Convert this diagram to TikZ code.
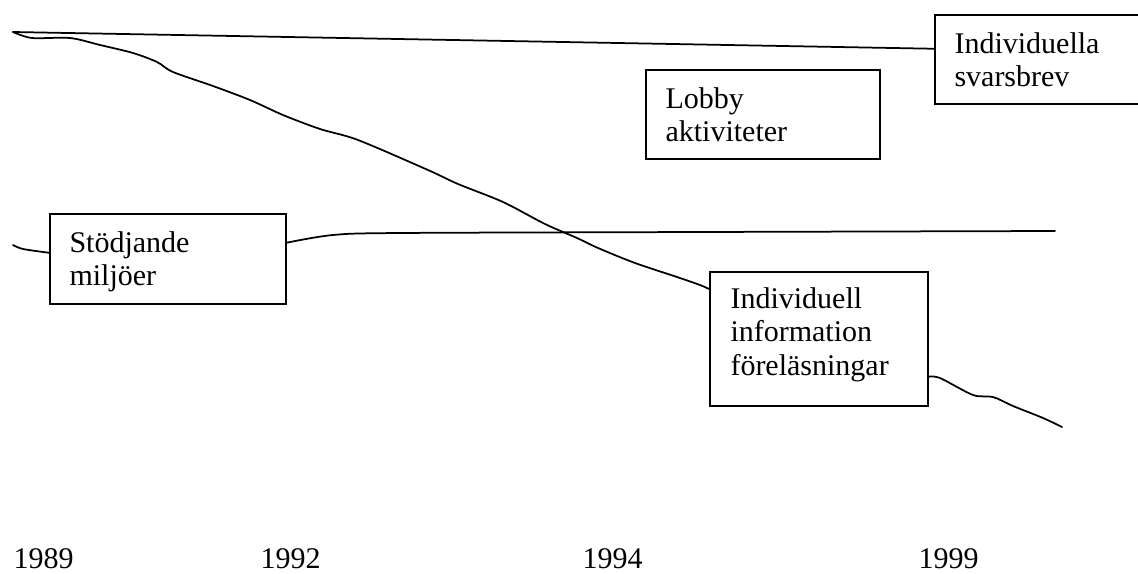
\documentclass[tikz,border=0pt]{standalone}
\usepackage{fontspec}
\setmainfont{Liberation Serif}
\usetikzlibrary{calc}
\tikzset{
  box/.style={draw, line width=0.6pt, inner sep=0pt, anchor=north west},
  lbl/.style={inner sep=0pt, anchor=base west, align=left, text width=70pt,
              font=\fontsize{12pt}{13.4pt}\selectfont},
  yr/.style={inner sep=0pt, anchor=base west, font=\fontsize{12pt}{14pt}\selectfont},
  conn/.style={line width=0.7pt, line join=round, line cap=round},
}
\begin{document}
\begin{tikzpicture}[x=0.4pt,y=-0.4pt]
\useasboundingbox (0,0) rectangle (1138,573);
\clip (0,0) rectangle (1138,573);
% boxes
\node[box, minimum width=88pt, minimum height=35.6pt] (svar) at (934,14) {};
\node[box, minimum width=93.6pt, minimum height=35.6pt] (lobby) at (645,69) {};
\node[box, minimum width=94.4pt, minimum height=36pt] (stod) at (49,213) {};
\node[box, minimum width=87.2pt, minimum height=53.6pt] (info) at (709,271) {};
% labels
\node[lbl] (tsvar) at (954,53) {Individuella\\svarsbrev};
\node[lbl] (tlobby) at (665,108) {Lobby\\aktiviteter};
\node[lbl] (tstod) at (69,252) {Stödjande\\miljöer};
\node[lbl] (tinfo) at (730,308) {Individuell\\information\\föreläsningar};
% years
\node[yr] (y1) at (13,568) {1989};
\node[yr] (y2) at (260,568) {1992};
\node[yr] (y3) at (582,568) {1994};
\node[yr] (y4) at (918,568) {1999};
% free ends
\coordinate (s0) at (13,32);
\coordinate (e1) at (1062,427);
\coordinate (l0) at (13,245);
\coordinate (r1) at (1055,231);
% connectors
\draw[conn] (s0) -- ([yshift=4.2pt]svar.west);
\draw[conn] plot[smooth, tension=0.5] coordinates {(s0) (32,38) (70,38) (100,45) (133,53) (157,62) (173,72) (213,86) (250,100) (283,115) (320,129) (358,140) (428,170) (458,184) (503,202) (545,224) (577,238) (598,248) (635,263) (677,277) (700,285) ([yshift=-7.2pt]info.north west)};
\draw[conn] plot[smooth, tension=0.5] coordinates {([yshift=-15.2pt]info.east) (940,378) (973,395) (993,397) (1013,406) (1043,418) (e1)};
\draw[conn] plot[smooth, tension=0.5] coordinates {(l0) (23,249) ([yshift=2.4pt]stod.west)};
\draw[conn] plot[smooth, tension=0.5] coordinates {([yshift=6.4pt]stod.east) (333,235) (400,233) (700,232) (r1)};
\end{tikzpicture}
\end{document}
